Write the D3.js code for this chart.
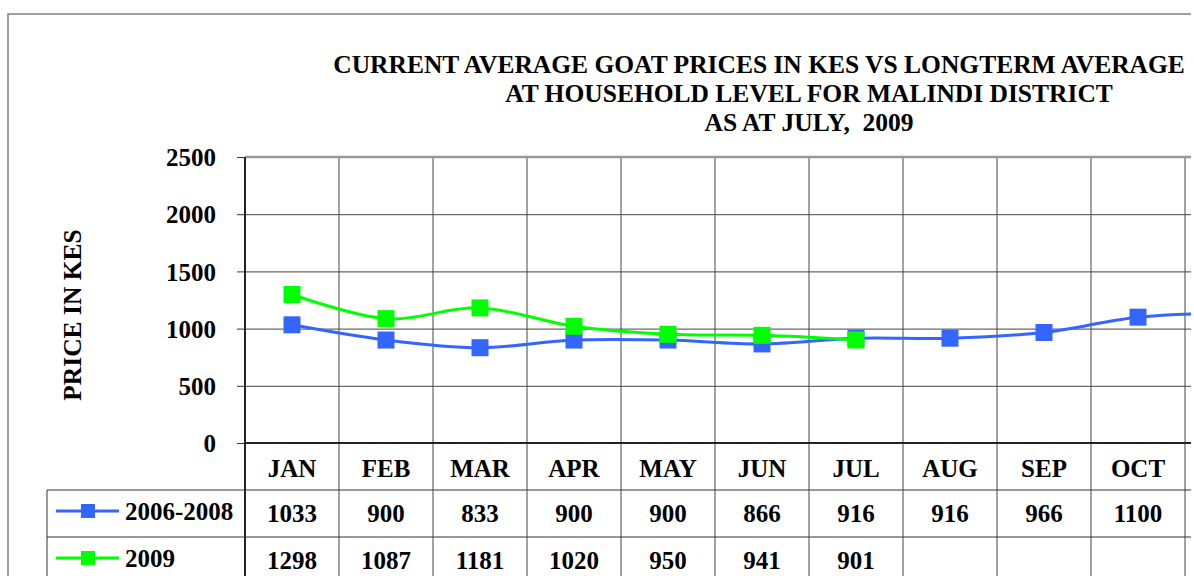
<!DOCTYPE html>
<html lang="en">
<head>
    <meta charset="UTF-8">
    <script src="https://d3js.org/d3.v7.min.js" charset="utf-8"></script>
    <title>Goat prices Malindi</title>
    <style>
        body { margin: 0; background: white; }
        svg text { font-family: "Liberation Serif", "Times New Roman", serif; font-weight: bold; fill: #000; white-space: pre; }
    </style>
</head>
<body>
<div class="chart"></div>
<script>
    // Data
    const months = ["JAN", "FEB", "MAR", "APR", "MAY", "JUN", "JUL", "AUG", "SEP", "OCT", "NOV", "DEC"];
    const longTerm = [1033, 900, 833, 900, 900, 866, 916, 916, 966, 1100, 1133, 1100];
    const current = [1298, 1087, 1181, 1020, 950, 941, 901];
    const yTicks = [0, 500, 1000, 1500, 2000, 2500];
    const titleLines = [
        "CURRENT AVERAGE GOAT PRICES IN KES VS LONGTERM AVERAGE PRICES",
        "AT HOUSEHOLD LEVEL FOR MALINDI DISTRICT",
        "AS AT JULY,  2009"
    ];

    const series = [
        {name: "2006-2008", values: longTerm, color: "#3366FF"},
        {name: "2009", values: current, color: "#00FF00"}
    ];

    const width = 1194;
    const height = 576;
    const visibleRight = 1191; // the chart runs off the right edge of the page
    const plotLeft = 245, plotTop = 157, plotBottom = 443;
    const colWidth = 94;
    const plotRight = plotLeft + colWidth * months.length;

    const root = d3.select(".chart").append("svg")
        .attr("width", width)
        .attr("height", height);

    root.append("clipPath").attr("id", "view")
        .append("rect").attr("x", 0).attr("y", 0)
        .attr("width", visibleRight).attr("height", height);

    const svg = root.append("g").attr("clip-path", "url(#view)");

    // outer chart border
    svg.append("rect")
        .attr("x", 8).attr("y", 14)
        .attr("width", 1500).attr("height", 700)
        .attr("fill", "none")
        .attr("stroke", "#808080")
        .attr("stroke-width", 1.5);

    // title
    const titleX = (plotLeft + plotRight) / 2;
    svg.append("g").selectAll("text")
        .data(titleLines)
        .enter()
        .append("text")
        .attr("x", titleX)
        .attr("y", (d, i) => 73 + i * 29)
        .attr("text-anchor", "middle")
        .style("font-size", "25.5px")
        .text(d => d);

    // scales
    const x = d3.scaleBand().domain(months).range([plotLeft, plotRight]);
    const y = d3.scaleLinear().domain([0, 2500]).range([plotBottom, plotTop]);
    const cx = m => x(m) + x.bandwidth() / 2;
    // only months whose table cell starts inside the page get labels
    const shown = m => x(m) + 20 < visibleRight;

    // horizontal gridlines
    svg.append("g")
        .attr("transform", `translate(${plotLeft},0)`)
        .call(d3.axisLeft(y).tickValues(yTicks).tickSize(-(plotRight - plotLeft)).tickFormat(""))
        .call(g => g.select(".domain").remove())
        .call(g => g.selectAll("line").attr("stroke", "#444").attr("stroke-width", 1));

    // vertical gridlines, running down through the data table
    const tableBottom = 600;
    svg.append("g").selectAll("line")
        .data(months.slice(1))
        .enter()
        .append("line")
        .attr("x1", d => x(d)).attr("x2", d => x(d))
        .attr("y1", plotTop).attr("y2", tableBottom)
        .attr("stroke", "#444")
        .attr("stroke-width", 1);

    // plot top border
    svg.append("line")
        .attr("x1", plotLeft).attr("x2", plotRight)
        .attr("y1", plotTop).attr("y2", plotTop)
        .attr("stroke", "#999").attr("stroke-width", 2.5);

    // y axis
    const yAxis = svg.append("g")
        .attr("transform", `translate(${plotLeft},0)`)
        .call(d3.axisLeft(y).tickValues(yTicks).tickSize(8).tickPadding(21).tickFormat(d3.format("d")));
    yAxis.select(".domain").remove();
    yAxis.selectAll("line").attr("stroke", "#333");
    yAxis.selectAll("text")
        .style("font-size", "25px")
        .style("font-family", "Liberation Serif, serif")
        .style("font-weight", "bold")
        .attr("dy", "0.35em");

    svg.append("line")
        .attr("x1", plotLeft).attr("x2", plotLeft)
        .attr("y1", plotTop).attr("y2", tableBottom)
        .attr("stroke", "#222").attr("stroke-width", 2);
    svg.append("line")
        .attr("x1", plotLeft).attr("x2", plotRight)
        .attr("y1", plotBottom).attr("y2", plotBottom)
        .attr("stroke", "#222").attr("stroke-width", 2);

    // y axis title
    svg.append("text")
        .attr("transform", "translate(81,315) rotate(-90)")
        .attr("text-anchor", "middle")
        .style("font-size", "25.5px")
        .text("PRICE IN KES");

    // data table
    const rowTop = [490, 537];
    const rowBottom = 600;
    const legendLeft = 47;

    // month labels
    svg.append("g").selectAll("text")
        .data(months.filter(shown))
        .enter()
        .append("text")
        .attr("x", cx)
        .attr("y", 477)
        .attr("text-anchor", "middle")
        .style("font-size", "25px")
        .text(d => d);

    // table horizontal rules
    svg.append("g").selectAll("line")
        .data(rowTop)
        .enter()
        .append("line")
        .attr("x1", legendLeft).attr("x2", plotRight)
        .attr("y1", d => d).attr("y2", d => d)
        .attr("stroke", "#333").attr("stroke-width", 1);
    svg.append("line")
        .attr("x1", legendLeft).attr("x2", legendLeft)
        .attr("y1", rowTop[0]).attr("y2", rowBottom)
        .attr("stroke", "#333").attr("stroke-width", 1);

    // lines and markers
    const line = d3.line()
        .x((d, i) => cx(months[i]))
        .y(d => y(d))
        .curve(d3.curveCatmullRom.alpha(0));

    const markerSize = 17;

    series.forEach((s, si) => {
        svg.append("path")
            .datum(s.values)
            .attr("d", line)
            .attr("fill", "none")
            .attr("stroke", s.color)
            .attr("stroke-width", 3);

        svg.append("g").selectAll("rect")
            .data(s.values)
            .enter()
            .append("rect")
            .attr("x", (d, i) => cx(months[i]) - markerSize / 2)
            .attr("y", d => y(d) - markerSize / 2)
            .attr("width", markerSize)
            .attr("height", markerSize)
            .attr("fill", s.color);

        // table row
        const rowY = rowTop[si];
        const midY = rowY + 21;
        svg.append("line")
            .attr("x1", 56).attr("x2", 119)
            .attr("y1", midY).attr("y2", midY)
            .attr("stroke", s.color).attr("stroke-width", 3);
        svg.append("rect")
            .attr("x", 88 - 7).attr("y", midY - 7)
            .attr("width", 14).attr("height", 14)
            .attr("fill", s.color);
        svg.append("text")
            .attr("x", 125)
            .attr("y", rowY + 30)
            .style("font-size", "25px")
            .text(s.name);

        const cells = s.values.map((v, i) => ({m: months[i], v: v})).filter(c => shown(c.m));
        svg.append("g").selectAll("text")
            .data(cells)
            .enter()
            .append("text")
            .attr("x", c => cx(c.m))
            .attr("y", rowY + 32)
            .attr("text-anchor", "middle")
            .style("font-size", "25px")
            .text(c => c.v);
    });
</script>
</body>
</html>
